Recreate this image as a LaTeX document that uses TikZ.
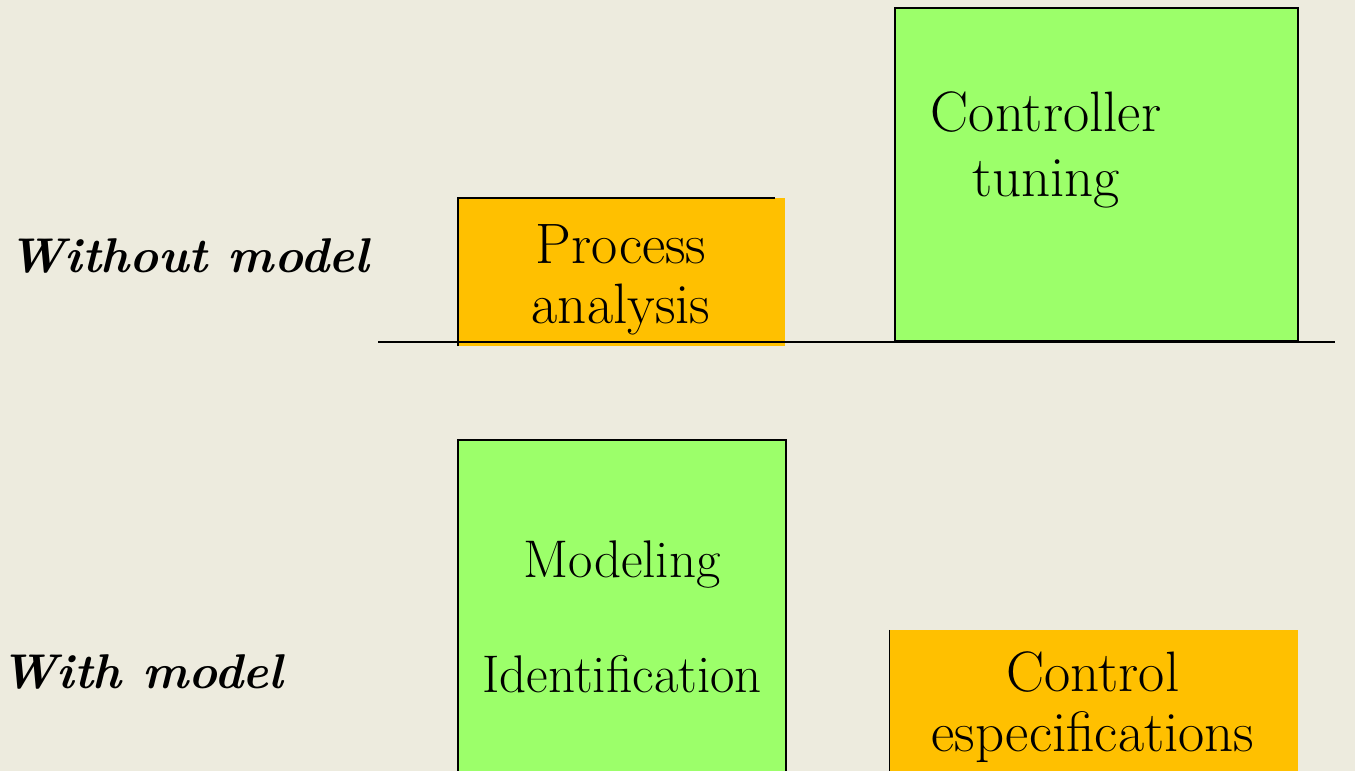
\documentclass[tikz,border=0pt]{standalone}
\usetikzlibrary{positioning}

\definecolor{paper}{RGB}{237,235,222}
\definecolor{phasegreen}{RGB}{156,255,106}
\definecolor{phaseorange}{RGB}{255,192,0}

\begin{document}
\begin{tikzpicture}[x=1pt,y=-1pt,
    phase/.style={inner sep=0pt,align=center},
    big/.style={font=\fontsize{57}{60}\selectfont},
    side/.style={anchor=base west,inner sep=0pt,font=\fontsize{48.8}{60}\selectfont\bfseries\itshape}]
    \fill[paper] (0,0) rectangle (1355,771);
    \useasboundingbox (0,0) rectangle (1355,771);

    % without model
    \node[phase,fill=phaseorange,minimum width=327pt,minimum height=148pt] (pa) at (621.5,272) {};
    \node[phase,big] (patext) at (621,280) {Process\\analysis};
    \draw[line width=2pt] (pa.south west) -- (pa.north west) -- ([xshift=-10pt]pa.north east);
    \node[phase,draw,line width=2pt,fill=phasegreen,minimum width=403pt,minimum height=333pt] (ct) at (1096.5,174.5) {};
    \node[phase,font=\fontsize{57}{65}\selectfont] (cttext) at (1046,150) {Controller\\tuning};
    \coordinate (axisL) at (378,342);
    \coordinate (axisR) at (1335,342);
    \draw[line width=2pt] (axisL) -- (axisR);
    \node[side] (wo) at (8,272) {Without model};

    % with model
    \node[phase,draw,line width=2pt,fill=phasegreen,minimum width=328pt,minimum height=350pt] (mi) at (622,615) {};
    \node[phase,font=\fontsize{53}{115}\selectfont] (mitext) at (622,617) {Modeling\\Identification};
    \node[phase,fill=phaseorange,minimum width=408pt,minimum height=160pt] (ce) at (1094,710) {};
    \draw[line width=1pt] (ce.north west) -- (ce.south west);
    \node[phase,big] (cetext) at (1093,707) {Control\\especifications};
    \node[side] (wi) at (0,688) {With model};
\end{tikzpicture}
\end{document}
